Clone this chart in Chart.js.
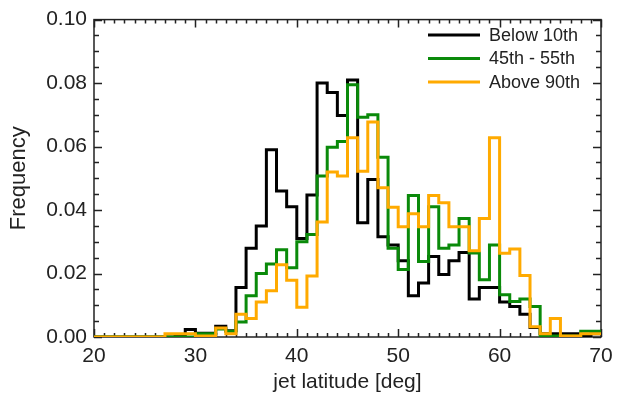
<!DOCTYPE html>
<html>
<head>
<meta charset="utf-8">
<script src="https://cdn.jsdelivr.net/npm/chart.js@4.4.1/dist/chart.umd.min.js"></script>
<style>
  html, body { margin: 0; padding: 0; background: #fff; }
  #wrap { width: 623px; height: 395px; }
</style>
</head>
<body>
<div id="wrap"><canvas id="chart" width="623" height="395"></canvas></div>
<script>
// Left edges of the 1-degree latitude bins
const latitudes = [20, 21, 22, 23, 24, 25, 26, 27, 28, 29,
                   30, 31, 32, 33, 34, 35, 36, 37, 38, 39,
                   40, 41, 42, 43, 44, 45, 46, 47, 48, 49,
                   50, 51, 52, 53, 54, 55, 56, 57, 58, 59,
                   60, 61, 62, 63, 64, 65, 66, 67, 68, 69];
const lastEdge = 70;

// Relative frequency per bin
const below10 = [0, 0, 0, 0, 0, 0, 0, 0, 0.0005, 0.0024,
                 0.0012, 0.0012, 0.0034, 0.002, 0.0156, 0.028, 0.035, 0.059, 0.046, 0.041,
                 0.031, 0.0447, 0.080, 0.077, 0.0698, 0.081, 0.036, 0.0496, 0.0316, 0.029,
                 0.024, 0.013, 0.017, 0.0254, 0.0197, 0.024, 0.0266, 0.012, 0.0156, 0.0156,
                 0.011, 0.0096, 0.0072, 0.003, 0.001, 0.001, 0.001, 0.001, 0.0003, 0.001];
const mid45to55 = [0, 0, 0, 0, 0, 0, 0, 0, 0, 0,
                   0.001, 0.001, 0.0025, 0.0018, 0.0047, 0.013, 0.020, 0.023, 0.0275, 0.0218,
                   0.030, 0.0323, 0.0507, 0.0598, 0.0616, 0.0795, 0.0692, 0.070, 0.0566, 0.028,
                   0.0213, 0.0446, 0.0238, 0.041, 0.028, 0.029, 0.0373, 0.0265, 0.018, 0.029,
                   0.0133, 0.0112, 0.012, 0.0096, 0.0003, 0.0003, 0.0003, 0.0003, 0.0018, 0.0018];
const above90 = [0, 0, 0, 0, 0, 0, 0, 0.001, 0.001, 0.001,
                 0.0003, 0.0003, 0.0028, 0.001, 0.0072, 0.0058, 0.011, 0.0146, 0.0228, 0.0179,
                 0.0094, 0.0192, 0.0362, 0.052, 0.0507, 0.0628, 0.0522, 0.0677, 0.047, 0.0409,
                 0.0347, 0.0388, 0.0347, 0.0446, 0.0423, 0.0347, 0.0347, 0.0272, 0.0373, 0.0628,
                 0.0264, 0.0277, 0.0194, 0.0032, 0.001, 0.0058, 0.0003, 0.0003, 0.001, 0.001];

const seriesLabels = ['Below 10th', '45th - 55th', 'Above 90th'];
const seriesColors = ['#000000', '#0a8a0a', '#ffaa00'];

const xTicks = [20, 30, 40, 50, 60, 70];
const yTicks = [0.00, 0.02, 0.04, 0.06, 0.08, 0.10];

const FONT = '"Liberation Sans", Arial, Helvetica, sans-serif';
const INK = '#222';

// step outline: each bin edge carries its bin value, closed at the last edge
function stepPoints(values) {
  const pts = latitudes.map((lat, i) => ({ x: lat, y: values[i] }));
  pts.push({ x: lastEdge, y: values[values.length - 1] });
  return pts;
}

// box around the plot with inward major/minor ticks on all four sides
const frameTicks = {
  id: 'frameTicks',
  beforeDatasetsDraw(chart) {
    const { ctx, chartArea: a, scales: { x, y } } = chart;
    ctx.save();
    ctx.strokeStyle = INK;
    ctx.lineWidth = 1.5;
    ctx.strokeRect(a.left, a.top, a.right - a.left, a.bottom - a.top);
    ctx.beginPath();
    for (let v = xTicks[0]; v <= lastEdge; v++) {
      const px = Math.round(x.getPixelForValue(v)) + 0.5;
      const len = xTicks.includes(v) ? 8 : 4;
      ctx.moveTo(px, a.bottom); ctx.lineTo(px, a.bottom - len);
      ctx.moveTo(px, a.top); ctx.lineTo(px, a.top + len);
    }
    for (let i = 0; i <= 20; i++) {
      const py = Math.round(y.getPixelForValue(i * 0.005)) + 0.5;
      const len = i % 4 === 0 ? 8 : 5;
      ctx.moveTo(a.left, py); ctx.lineTo(a.left + len, py);
      ctx.moveTo(a.right, py); ctx.lineTo(a.right - len, py);
    }
    ctx.stroke();
    ctx.restore();
  }
};

// legend in the upper right corner, line sample followed by label
const lineLegend = {
  id: 'lineLegend',
  afterDraw(chart) {
    const { ctx } = chart;
    ctx.save();
    ctx.font = '18px ' + FONT;
    ctx.textBaseline = 'middle';
    chart.data.datasets.forEach((ds, i) => {
      const yy = 35 + i * 23.5;
      ctx.strokeStyle = ds.borderColor;
      ctx.lineWidth = 3;
      ctx.beginPath();
      ctx.moveTo(428, yy);
      ctx.lineTo(480, yy);
      ctx.stroke();
      ctx.fillStyle = INK;
      ctx.fillText(ds.label, 489, yy + 1);
    });
    ctx.restore();
  }
};

const seriesValues = [below10, mid45to55, above90];

new Chart(document.getElementById('chart'), {
  type: 'line',
  data: {
    datasets: seriesValues.map((vals, i) => ({
      label: seriesLabels[i],
      data: stepPoints(vals),
      borderColor: seriesColors[i],
      borderWidth: 3,
      stepped: 'before',
      pointRadius: 0,
      fill: false,
      order: seriesValues.length - i
    }))
  },
  options: {
    responsive: false,
    animation: false,
    devicePixelRatio: 1,
    layout: { padding: { top: 14, right: 22, left: 0, bottom: 0 } },
    plugins: { legend: { display: false }, tooltip: { enabled: false } },
    scales: {
      x: {
        type: 'linear',
        min: 20,
        max: 70,
        afterBuildTicks(scale) { scale.ticks = xTicks.map(v => ({ value: v })); },
        afterFit(scale) { scale.height = 58; },
        grid: { display: false, drawTicks: false },
        border: { display: false },
        ticks: { color: INK, font: { family: FONT, size: 21 }, padding: 7, maxRotation: 0 },
        title: { display: true, text: 'jet latitude [deg]', color: INK,
                 font: { family: FONT, size: 21 }, padding: { top: 0, bottom: 0 } }
      },
      y: {
        type: 'linear',
        min: 0,
        max: 0.1,
        afterBuildTicks(scale) { scale.ticks = yTicks.map(v => ({ value: v })); },
        afterFit(scale) { scale.width = 94; },
        grid: { display: false, drawTicks: false },
        border: { display: false },
        ticks: { color: INK, font: { family: FONT, size: 21 }, padding: 7,
                 callback: v => v.toFixed(2) },
        title: { display: true, text: 'Frequency', color: INK,
                 font: { family: FONT, size: 22 }, padding: { top: 6, bottom: 0 } }
      }
    }
  },
  plugins: [frameTicks, lineLegend]
});
</script>
</body>
</html>
